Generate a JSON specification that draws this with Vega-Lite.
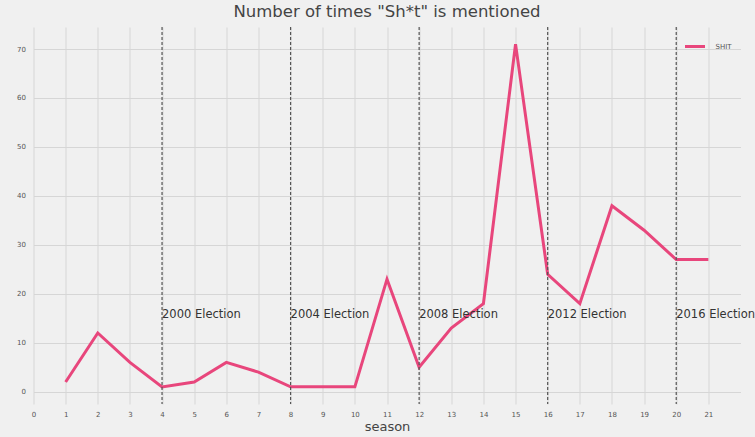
{
  "$schema": "https://vega.github.io/schema/vega-lite/v6.json",
  "autosize": "none",
  "width": 707,
  "height": 377,
  "padding": {"left": 33.5, "top": 27, "right": 14.5, "bottom": 33},
  "background": "#f0f0f0",
  "title": {"text": "Number of times \"Sh*t\" is mentioned", "fontSize": 16.5, "font": "DejaVu Sans", "fontWeight": "normal", "color": "#444444", "anchor": "middle", "offset": 6},
  "config": {
    "font": "DejaVu Sans",
    "view": {"stroke": null, "fill": "#f0f0f0"},
    "axis": {"gridColor": "#d6d6d6", "gridWidth": 1, "domain": false, "ticks": false, "labelFontSize": 7, "labelColor": "#555555", "labelFont": "DejaVu Sans"}
  },
  "datasets": {
    "shit": [
      {"season": 1, "count": 2, "series": "SHIT"},
      {"season": 2, "count": 12, "series": "SHIT"},
      {"season": 3, "count": 6, "series": "SHIT"},
      {"season": 4, "count": 1, "series": "SHIT"},
      {"season": 5, "count": 2, "series": "SHIT"},
      {"season": 6, "count": 6, "series": "SHIT"},
      {"season": 7, "count": 4, "series": "SHIT"},
      {"season": 8, "count": 1, "series": "SHIT"},
      {"season": 9, "count": 1, "series": "SHIT"},
      {"season": 10, "count": 1, "series": "SHIT"},
      {"season": 11, "count": 23, "series": "SHIT"},
      {"season": 12, "count": 5, "series": "SHIT"},
      {"season": 13, "count": 13, "series": "SHIT"},
      {"season": 14, "count": 18, "series": "SHIT"},
      {"season": 15, "count": 71, "series": "SHIT"},
      {"season": 16, "count": 24, "series": "SHIT"},
      {"season": 17, "count": 18, "series": "SHIT"},
      {"season": 18, "count": 38, "series": "SHIT"},
      {"season": 19, "count": 33, "series": "SHIT"},
      {"season": 20, "count": 27, "series": "SHIT"},
      {"season": 21, "count": 27, "series": "SHIT"}
    ],
    "elections": [
      {"season": 4, "label": "2000 Election", "y": 15},
      {"season": 8, "label": "2004 Election", "y": 15},
      {"season": 12, "label": "2008 Election", "y": 15},
      {"season": 16, "label": "2012 Election", "y": 15},
      {"season": 20, "label": "2016 Election", "y": 15}
    ]
  },
  "encoding": {
    "x": {"field": "season", "type": "quantitative", "scale": {"domain": [0, 22], "nice": false, "zero": false},
          "axis": {"values": [0,1,2,3,4,5,6,7,8,9,10,11,12,13,14,15,16,17,18,19,20,21], "labelOverlap": false, "labelBound": false, "labelFlush": false, "title": "season", "titleFontSize": 13, "titleFontWeight": "normal", "titleColor": "#444444", "titlePadding": 3, "labelPadding": 6}}
  },
  "layer": [
    {
      "data": {"name": "shit"},
      "mark": {"type": "line", "strokeWidth": 3},
      "encoding": {
        "y": {"field": "count", "type": "quantitative", "scale": {"domain": [-2.5, 74.5], "nice": false, "zero": false},
              "axis": {"values": [0,10,20,30,40,50,60,70], "labelOverlap": false, "title": null, "labelPadding": 8}},
        "color": {"field": "series", "type": "nominal", "scale": {"range": ["#e8467c"]},
                  "legend": {"title": null, "orient": "top-right", "offset": 8, "symbolType": "stroke", "symbolSize": 400, "symbolStrokeWidth": 3, "labelFontSize": 7, "labelColor": "#555555", "labelOffset": 9}}
      }
    },
    {
      "data": {"name": "elections"},
      "mark": {"type": "rule", "strokeDash": [3, 2], "strokeWidth": 1.2, "color": "#555555"},
      "encoding": {}
    },
    {
      "data": {"name": "elections"},
      "mark": {"type": "text", "align": "left", "baseline": "alphabetic", "fontSize": 11.5, "color": "#333333", "dx": 0},
      "encoding": {
        "y": {"field": "y", "type": "quantitative"},
        "text": {"field": "label"}
      }
    }
  ]
}
